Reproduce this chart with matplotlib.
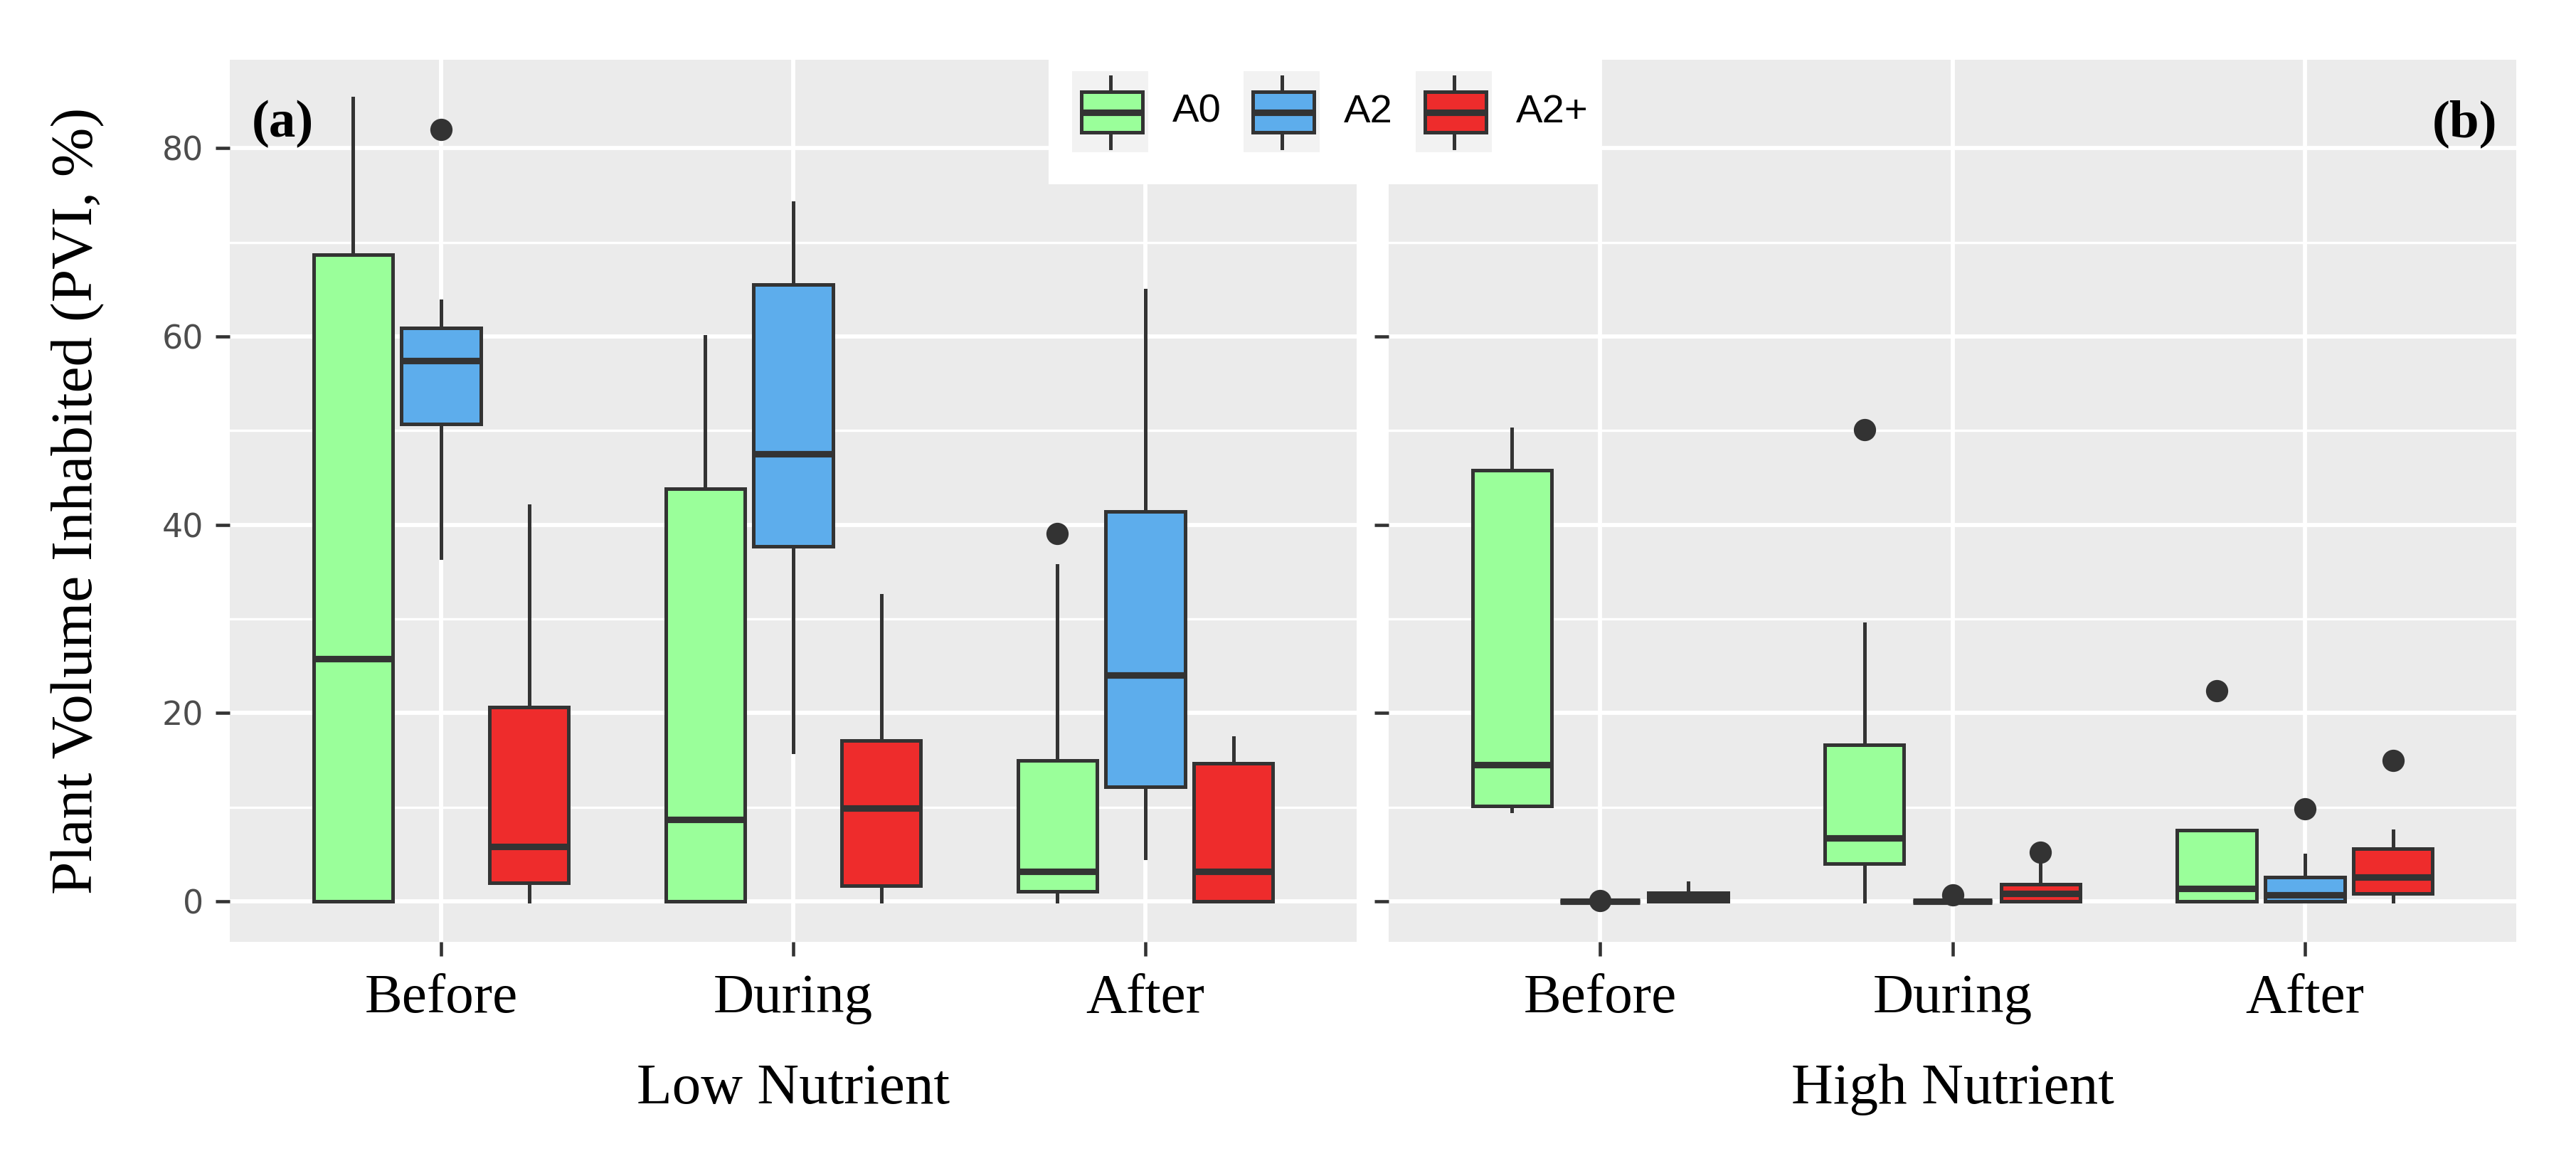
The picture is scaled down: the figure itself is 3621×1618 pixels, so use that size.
import matplotlib.pyplot as plt
from matplotlib.patches import Rectangle

plt.rcParams['font.family'] = ['Liberation Serif', 'DejaVu Serif']

phases = ["Before", "During", "After"]
groups = ["A0", "A2", "A2+"]
colors = {"A0": "#9AFF9A", "A2": "#5DADEC", "A2+": "#EE2C2C"}

# box summaries: (whisker low, q1, median, q3, whisker high)
low_stats = {
    "A0": [(0, 0, 25.8, 68.7, 85.3), (0, 0, 8.7, 43.8, 60.0), (0, 1.1, 3.2, 15.0, 35.7)],
    "A2": [(36.5, 50.7, 57.4, 60.9, 63.8), (15.9, 37.7, 47.5, 65.5, 74.2), (4.6, 12.2, 24.0, 41.4, 64.9)],
    "A2+": [(0, 2.0, 5.8, 20.6, 42.0), (0, 1.7, 9.9, 17.1, 32.5), (0, 0, 3.2, 14.7, 17.4)],
}
low_outliers = {
    "A0": [[], [], [39.1]],
    "A2": [[82.0], [], []],
    "A2+": [[], [], []],
}
high_stats = {
    "A0": [(9.6, 10.1, 14.5, 45.8, 50.2), (0, 4.0, 6.7, 16.6, 29.5), (0, 0, 1.4, 7.6, 7.6)],
    "A2": [(0, 0, 0, 0, 0), (0, 0, 0, 0, 0), (0, 0, 0.7, 2.6, 4.9)],
    "A2+": [(0, 0, 0.5, 0.9, 2.0), (0, 0, 0.85, 1.8, 4.1), (0, 0.85, 2.6, 5.6, 7.5)],
}
high_outliers = {
    "A0": [[], [50.1], [22.4]],
    "A2": [[0.1], [0.7], [9.8]],
    "A2+": [[], [5.2], [15.0]],
}

W, H = 3621, 1618
fig = plt.figure(figsize=(W / 300, H / 300), dpi=300)

line_col = "#333333"


def draw_panel(ax, stats, outliers):
    ax.set_facecolor("#EBEBEB")
    for s in ax.spines.values():
        s.set_visible(False)
    for j, g in enumerate(groups):
        bstats = []
        for i in range(len(phases)):
            lo, q1, med, q3, hi = stats[g][i]
            bstats.append(dict(whislo=lo, q1=q1, med=med, q3=q3, whishi=hi,
                               fliers=outliers[g][i]))
        pos = [i + 1 + (j - 1) * 0.25 for i in range(len(phases))]
        ax.bxp(bstats, positions=pos, widths=0.225, patch_artist=True,
               showcaps=False, manage_ticks=False,
               boxprops=dict(facecolor=colors[g], edgecolor=line_col, linewidth=1.2),
               medianprops=dict(color=line_col, linewidth=2.2, solid_capstyle="butt"),
               whiskerprops=dict(color=line_col, linewidth=1.2),
               flierprops=dict(marker="o", markerfacecolor=line_col,
                               markeredgecolor=line_col, markersize=6.5),
               zorder=3)
    ax.set_xlim(0.4, 3.6)
    ax.set_ylim(-4.3, 89.4)
    ax.set_xticks([1, 2, 3])
    ax.set_xticklabels(phases, fontsize=19)
    ax.set_yticks([0, 20, 40, 60, 80])
    ax.set_yticks([10, 30, 50, 70], minor=True)
    ax.grid(which="major", color="white", linewidth=1.4, zorder=0)
    ax.grid(which="minor", axis="y", color="white", linewidth=0.8, zorder=0)
    ax.set_axisbelow(True)
    ax.tick_params(axis="both", which="major", color=line_col, length=4.8, width=1.1)
    ax.tick_params(axis="x", pad=6)
    ax.tick_params(axis="y", which="minor", length=0)


bottom = 1 - 1324 / H
height = (1324 - 84) / H
ax1 = fig.add_axes([323 / W, bottom, 1584 / W, height])
ax2 = fig.add_axes([1952 / W, bottom, 1585 / W, height])

draw_panel(ax1, low_stats, low_outliers)
draw_panel(ax2, high_stats, high_outliers)

for lab in ax1.get_yticklabels():
    lab.set_fontfamily("DejaVu Sans")
    lab.set_fontsize(11)
    lab.set_color("#4D4D4D")
ax1.tick_params(axis="y", pad=4)
ax2.set_yticklabels([])

ax1.text(0.0196, 0.927, "(a)", transform=ax1.transAxes, fontsize=18,
         fontweight="bold", ha="left", va="center")
ax2.text(0.983, 0.927, "(b)", transform=ax2.transAxes, fontsize=18,
         fontweight="bold", ha="right", va="center")

fig.text((323 + 1907) / 2 / W, 1 - 1551 / H, "Low Nutrient", fontsize=19.5,
         ha="center", va="baseline")
fig.text((1952 + 3537) / 2 / W, 1 - 1551 / H, "High Nutrient", fontsize=19.5,
         ha="center", va="baseline")
fig.text(110 / W, 1 - 704 / H, "Plant Volume Inhabited (PVI, %)", fontsize=20,
         rotation=90, ha="center", va="center")

# legend drawn on its own white box across the top of both panels
lx0, lx1, ly0, ly1 = 1474, 2248, 60, 259
leg = fig.add_axes([lx0 / W, 1 - ly1 / H, (lx1 - lx0) / W, (ly1 - ly0) / H])
leg.set_zorder(10)
leg.set_facecolor("white")
leg.set_xlim(lx0, lx1)
leg.set_ylim(ly1, ly0)
leg.axis("off")
leg.add_patch(Rectangle((lx0, ly0), lx1 - lx0, ly1 - ly0, facecolor="white",
                        edgecolor="none", zorder=0))
key_x = [1507, 1748, 1990]
for kx, g in zip(key_x, groups):
    leg.add_patch(Rectangle((kx, 100), 107, 114, facecolor="#F2F2F2",
                            edgecolor="none", zorder=1))
    cx = kx + 53.5
    leg.plot([cx, cx], [108, 129], color=line_col, linewidth=1.2, zorder=2)
    leg.plot([cx, cx], [186, 208], color=line_col, linewidth=1.2, zorder=2)
    leg.add_patch(Rectangle((kx + 13, 129), 86, 57, facecolor=colors[g],
                            edgecolor=line_col, linewidth=1.2, zorder=3))
    leg.plot([kx + 13, kx + 99], [158, 158], color=line_col, linewidth=2.2,
             solid_capstyle="butt", zorder=4)
    leg.text(kx + 141, 158, g, fontsize=13.5, family="Liberation Sans",
             ha="left", va="center")

fig.savefig("out.png", dpi=300)
